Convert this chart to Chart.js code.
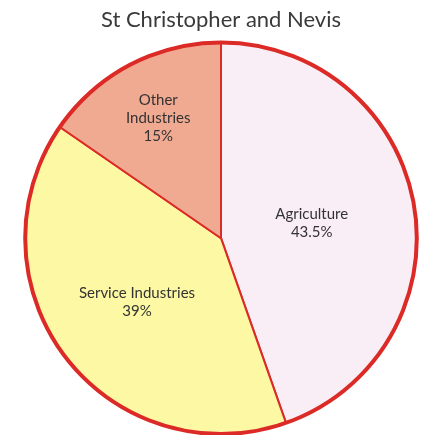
<!DOCTYPE html>
<html>
<head>
<meta charset="utf-8">
<script src="https://cdn.jsdelivr.net/npm/chart.js@4"></script>
<style>
  html, body { margin: 0; padding: 0; background: #ffffff; }
  #wrap { width: 425px; height: 435px; }
</style>
</head>
<body>
<div id="wrap"><canvas id="pieChart"></canvas></div>
<script>
// Data
const categories = ['Agriculture', 'Service Industries', 'Other Industries'];
const labelLines = [['Agriculture', '43.5%'], ['Service Industries', '39%'], ['Other', 'Industries', '15%']];
const shares = [43.5, 39, 15];

// Styling
const sliceColors = ['#f9eef6', '#fcf8a4', '#f1aa92'];
const lineRed = '#dc2a26';
const labelRadius = [0.47, 0.54, 0.69];

// Draws the text inside each slice, placed along the slice's mid angle
const sliceLabels = {
  id: 'sliceLabels',
  afterDatasetsDraw(chart) {
    const ctx = chart.ctx;
    const meta = chart.getDatasetMeta(0);
    ctx.save();
    ctx.font = '15px Lato, "DejaVu Sans", sans-serif';
    ctx.fillStyle = '#333333';
    ctx.textAlign = 'center';
    ctx.textBaseline = 'middle';
    meta.data.forEach((arc, i) => {
      const mid = (arc.startAngle + arc.endAngle) / 2;
      const r = arc.outerRadius * labelRadius[i];
      const cx = arc.x + Math.cos(mid) * r;
      const cy = arc.y + Math.sin(mid) * r;
      const lines = labelLines[i];
      const lh = 18;
      lines.forEach((t, j) => {
        ctx.fillText(t, cx, cy + (j - (lines.length - 1) / 2) * lh);
      });
    });

    // thicker outer rim
    const a = meta.data[0];
    ctx.beginPath();
    ctx.arc(a.x, a.y, a.outerRadius, 0, Math.PI * 2);
    ctx.lineWidth = 4;
    ctx.strokeStyle = lineRed;
    ctx.stroke();
    ctx.restore();
  }
};

const ctx = document.getElementById('pieChart').getContext('2d');
new Chart(ctx, {
  type: 'pie',
  data: {
    labels: categories,
    datasets: [{
      data: shares,
      backgroundColor: sliceColors,
      borderColor: lineRed,
      borderWidth: 2
    }]
  },
  options: {
    responsive: true,
    maintainAspectRatio: false,
    animation: false,
    events: [],
    layout: { padding: { left: 17, right: 0, top: 0, bottom: 0 } },
    plugins: {
      legend: { display: false },
      tooltip: { enabled: false },
      title: {
        display: true,
        text: 'St Christopher and Nevis',
        color: '#3a3a3a',
        font: { family: 'Lato, "DejaVu Sans", sans-serif', size: 22, weight: 'normal' },
        padding: { top: 7, bottom: 8 }
      }
    }
  },
  plugins: [sliceLabels]
});
</script>
</body>
</html>
